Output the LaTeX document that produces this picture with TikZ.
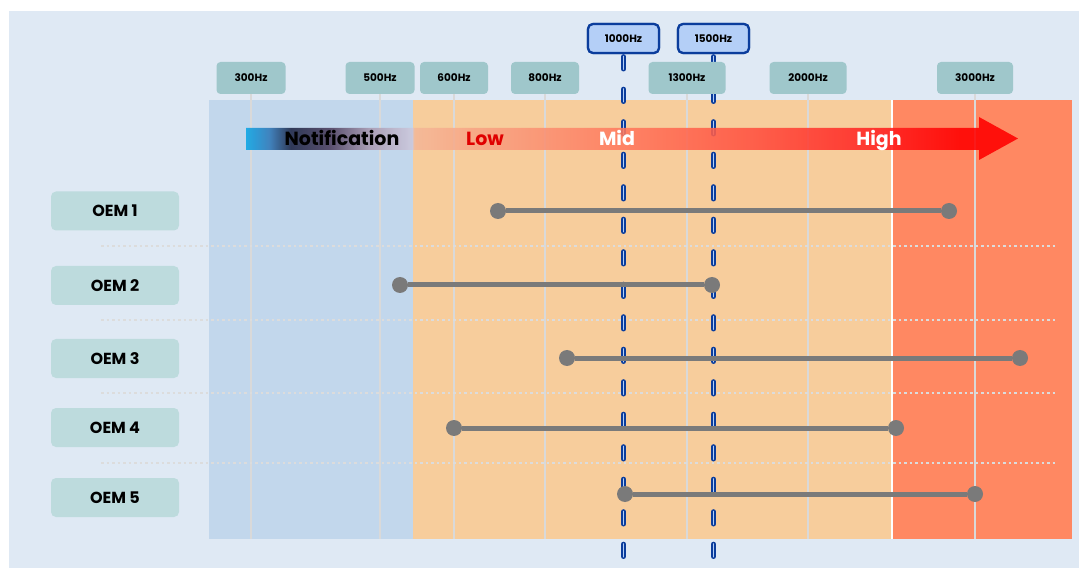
\documentclass[tikz,border=0pt]{standalone}
\usepackage{fontspec}
\setmainfont{Poppins}
\usetikzlibrary{positioning}
\definecolor{pagebg}{HTML}{DFE9F4}
\definecolor{notifbg}{HTML}{C2D7EC}
\definecolor{lowmidbg}{HTML}{F7CD9C}
\definecolor{highbg}{HTML}{FF8862}
\definecolor{hzfill}{HTML}{9FC7CB}
\definecolor{oemfill}{HTML}{BDDBDD}
\definecolor{keyfill}{HTML}{B4CFF7}
\definecolor{keyblue}{HTML}{0B3D9C}
\definecolor{gridgray}{HTML}{D9D9D9}
\definecolor{sepgray}{HTML}{DCDCDC}
\definecolor{rangegray}{HTML}{7A7A7A}
\definecolor{lowred}{HTML}{E00000}
\definecolor{ba}{HTML}{0AA5E5}
\definecolor{bb}{HTML}{2F78B8}
\definecolor{bc}{HTML}{1C2444}
\definecolor{bd}{HTML}{4A3C5C}
\definecolor{be}{HTML}{A898B0}
\definecolor{bf}{HTML}{CCC8DC}
\definecolor{bg}{HTML}{F4B898}
\definecolor{bh}{HTML}{F8A282}
\definecolor{bi}{HTML}{FF7A5E}
\definecolor{bj}{HTML}{FF4E3E}
\definecolor{bk}{HTML}{FF2020}
\definecolor{bl}{HTML}{FF0000}
\pgfdeclarehorizontalshading{bandbar}{100bp}{color(0bp)=(ba); color(25bp)=(ba); color(26.5bp)=(bb); color(27.9bp)=(bc); color(30.4bp)=(bd); color(33bp)=(be); color(35.75bp)=(bf); color(35.9bp)=(bg); color(40.2bp)=(bh); color(49.2bp)=(bi); color(58.3bp)=(bj); color(66bp)=(bk); color(71.2bp)=(bl); color(100bp)=(bl)}

\begin{document}
\begin{tikzpicture}[x=1pt, y=-1pt,
    hzbox/.style={rectangle, rounded corners=4pt, fill=hzfill, minimum height=32pt, inner sep=0pt, font=\fontsize{10.5}{12}\bfseries},
    keybox/.style={rectangle, rounded corners=5pt, draw=keyblue, line width=2.2pt, fill=keyfill, minimum width=71pt, minimum height=29pt, inner sep=0pt, font=\fontsize{10.5}{12}\bfseries},
    oembox/.style={rectangle, rounded corners=5pt, fill=oemfill, minimum width=128pt, minimum height=39pt, inner sep=0pt, font=\fontsize{16}{18}\bfseries},
    bandtext/.style={inner sep=0pt, anchor=base, font=\fontsize{19}{22}\bfseries},
    gridline/.style={gridgray, line width=1.2pt},
    sepline/.style={sepgray, line width=2pt, dash pattern=on 2.5pt off 3pt},
    keyline/.style={draw=keyblue, double=keyfill, double distance=1.8pt, line width=1.5pt, line cap=round, dash pattern=on 12.5pt off 20pt},
    rangeend/.style={circle, fill=rangegray, minimum size=16pt, inner sep=0pt},
    rangebar/.style={rangegray, line width=5pt}]

    \useasboundingbox (0,0) rectangle (1088,572);
    \fill[pagebg] (9,11) rectangle (1079,568);

    % Bands
    \fill[notifbg] (209,100) rectangle (413,539);
    \fill[lowmidbg] (413,100) rectangle (892,539);
    \fill[highbg] (892,100) rectangle (1072,539);
    \draw[white, line width=1.5pt] (892,100) -- (892,539);
    \coordinate (bottom) at (0,539);
    \coordinate (keyend) at (0,560);

    % Frequencies
    \node at (251, 78) [hzbox, minimum width=69pt] (hz300) {300Hz};
    \node at (380, 78) [hzbox, minimum width=69pt] (hz500) {500Hz};
    \node at (454, 78) [hzbox, minimum width=68pt] (hz600) {600Hz};
    \node at (545, 78) [hzbox, minimum width=68pt] (hz800) {800Hz};
    \node at (808, 78) [hzbox, minimum width=77pt] (hz2000) {2000Hz};
    \node at (975, 78) [hzbox, minimum width=76pt] (hz3000) {3000Hz};
    \node at (623.5, 38.5) [keybox] (k1000) {1000Hz};
    \node at (713.5, 38.5) [keybox] (k1500) {1500Hz};

    \draw[gridline] (hz300.south) -- (hz300.south |- bottom);
    \draw[gridline] (hz500.south) -- (hz500.south |- bottom);
    \draw[gridline] (hz600.south) -- (hz600.south |- bottom);
    \draw[gridline] (hz800.south) -- (hz800.south |- bottom);
    \draw[gridline] (687,94) -- (687,539);
    \draw[gridline] (hz2000.south) -- (hz2000.south |- bottom);
    \draw[gridline] (hz3000.south) -- (hz3000.south |- bottom);

    % Row separators
    \coordinate (s1l) at (101,246); \coordinate (s1r) at (1056,246);
    \coordinate (s2l) at (101,320); \coordinate (s2r) at (1056,320);
    \coordinate (s3l) at (101,393); \coordinate (s3r) at (1056,393);
    \coordinate (s4l) at (101,463); \coordinate (s4r) at (1056,463);
    \draw[sepline] (s1l) -- (s1r);
    \draw[sepline] (s2l) -- (s2r);
    \draw[sepline] (s3l) -- (s3r);
    \draw[sepline] (s4l) -- (s4r);

    \draw[keyline] ([yshift=-2.5pt] k1000.south) -- (k1000.south |- keyend);
    \draw[keyline] ([yshift=-2.5pt] k1500.south) -- (k1500.south |- keyend);

    % Band arrow
    \path[shading=bandbar, fill opacity=0.88] (246,128) -- (979,128) -- (979,117) -- (1018,138.5) -- (979,160) -- (979,150) -- (246,150) -- cycle;
    \node at (342, 146) [bandtext] (notif) {Notification};
    \node at (485, 146) [bandtext, text=lowred] (low) {Low};
    \node at (617, 146) [bandtext, text=white] (mid) {Mid};
    \node at (879, 146) [bandtext, text=white] (high) {High};

    \node at (687, 78) [hzbox, minimum width=77pt] (hz1300) {1300Hz};
    \node at (623.5, 38.5) [keybox] {1000Hz};
    \node at (713.5, 38.5) [keybox] {1500Hz};

    % OEMs
    \node at (115, 211) [oembox] (oem1) {OEM 1};
    \node at (115, 285.5) [oembox] (oem2) {OEM 2};
    \node at (115, 358.5) [oembox] (oem3) {OEM 3};
    \node at (115, 427.5) [oembox] (oem4) {OEM 4};
    \node at (115, 497.5) [oembox] (oem5) {OEM 5};

    \node at (498, 211) [rangeend] (r1a) {};
    \node at (949, 211) [rangeend] (r1b) {};
    \node at (400, 285) [rangeend] (r2a) {};
    \node at (712, 285) [rangeend] (r2b) {};
    \node at (567, 358) [rangeend] (r3a) {};
    \node at (1020, 358) [rangeend] (r3b) {};
    \node at (454, 428) [rangeend] (r4a) {};
    \node at (896, 428) [rangeend] (r4b) {};
    \node at (625, 494) [rangeend] (r5a) {};
    \node at (975, 494) [rangeend] (r5b) {};

    \draw[rangebar] (r1a) -- (r1b);
    \draw[rangebar] (r2a) -- (r2b);
    \draw[rangebar] (r3a) -- (r3b);
    \draw[rangebar] (r4a) -- (r4b);
    \draw[rangebar] (r5a) -- (r5b);

\end{tikzpicture}
\end{document}
